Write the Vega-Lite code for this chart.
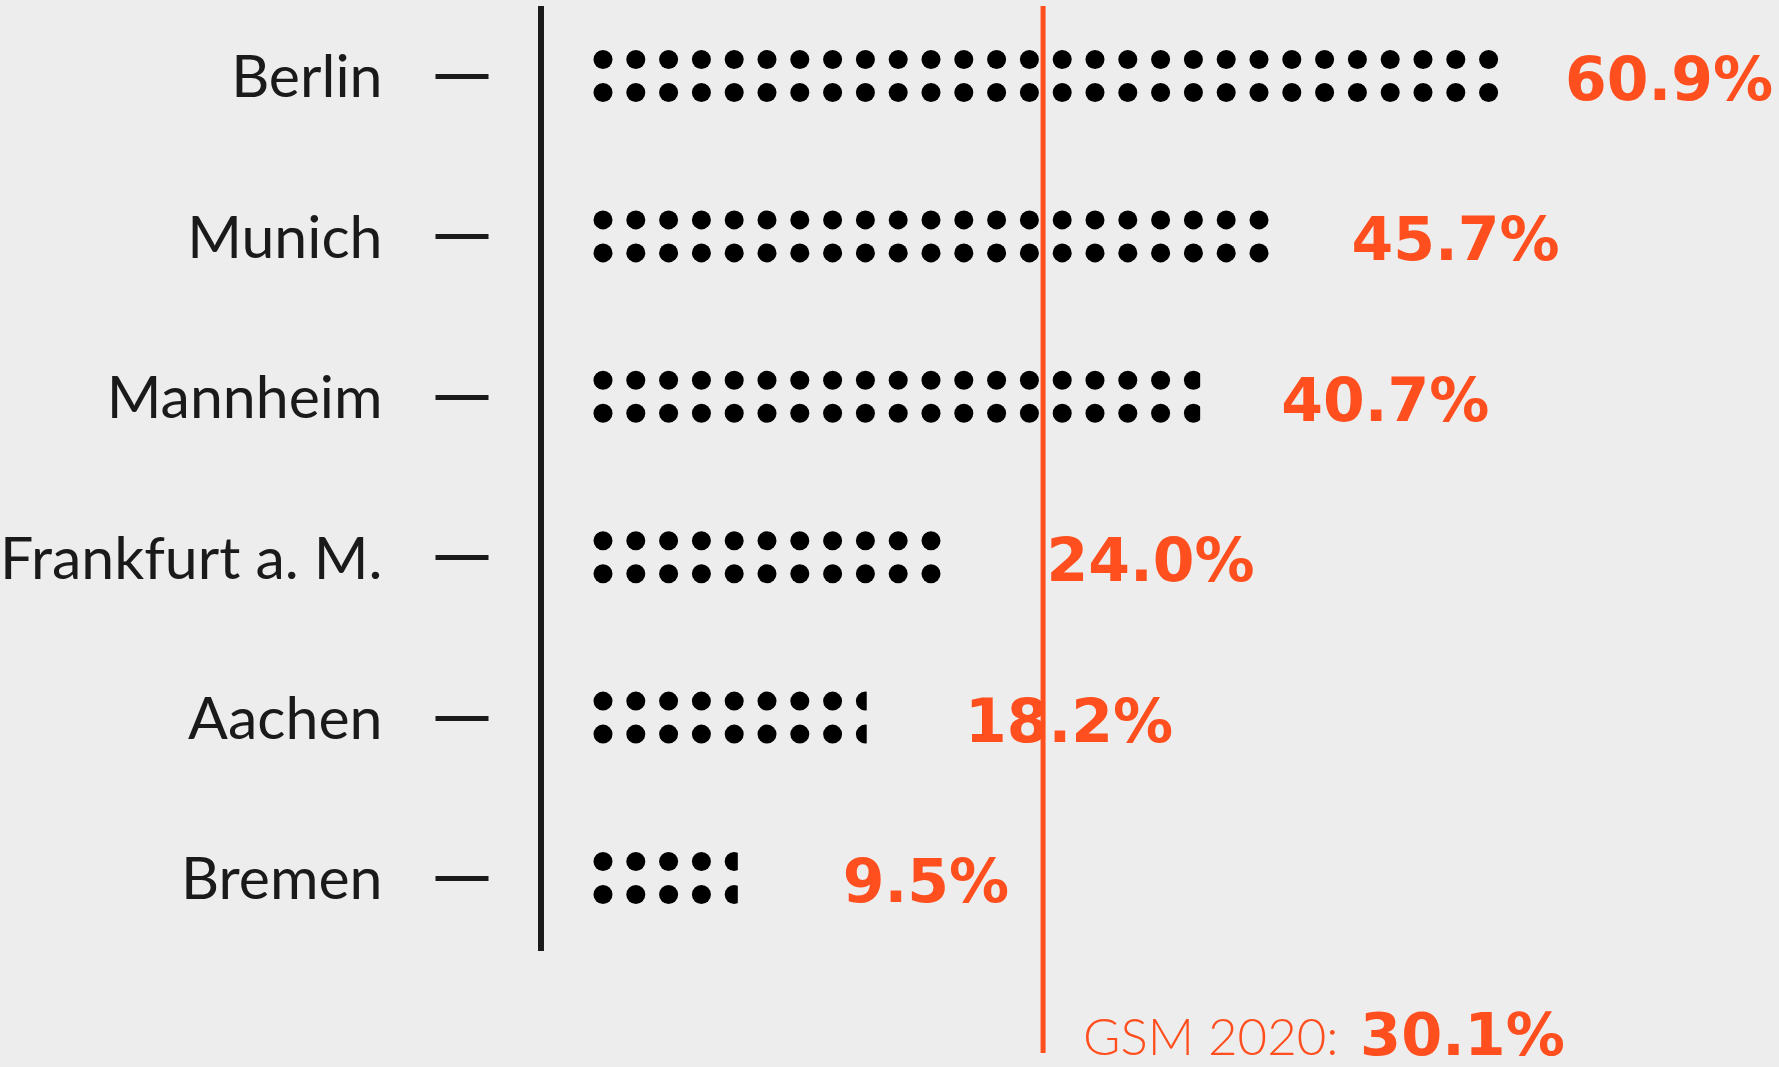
{
  "$schema": "https://vega.github.io/schema/vega-lite/v6.json",
  "width": 1238,
  "height": 1047,
  "autosize": {"type": "none"},
  "padding": {"left": 541, "top": 6, "right": 0, "bottom": 14},
  "background": "#EDEDED",
  "config": {"view": {"stroke": null}},
  "datasets": {
    "cities": [
      {"city": "Berlin", "value": 0.609},
      {"city": "Munich", "value": 0.457},
      {"city": "Mannheim", "value": 0.407},
      {"city": "Frankfurt a. M.", "value": 0.240},
      {"city": "Aachen", "value": 0.182},
      {"city": "Bremen", "value": 0.095}
    ],
    "gsm": [{"name": "GSM 2020:", "value": 0.301}],
    "dots": [
      {"city": "Berlin", "col": 0}, {"city": "Berlin", "col": 1}, {"city": "Berlin", "col": 2}, {"city": "Berlin", "col": 3},
      {"city": "Berlin", "col": 4}, {"city": "Berlin", "col": 5}, {"city": "Berlin", "col": 6}, {"city": "Berlin", "col": 7},
      {"city": "Berlin", "col": 8}, {"city": "Berlin", "col": 9}, {"city": "Berlin", "col": 10}, {"city": "Berlin", "col": 11},
      {"city": "Berlin", "col": 12}, {"city": "Berlin", "col": 13}, {"city": "Berlin", "col": 14}, {"city": "Berlin", "col": 15},
      {"city": "Berlin", "col": 16}, {"city": "Berlin", "col": 17}, {"city": "Berlin", "col": 18}, {"city": "Berlin", "col": 19},
      {"city": "Berlin", "col": 20}, {"city": "Berlin", "col": 21}, {"city": "Berlin", "col": 22}, {"city": "Berlin", "col": 23},
      {"city": "Berlin", "col": 24}, {"city": "Berlin", "col": 25}, {"city": "Berlin", "col": 26}, {"city": "Berlin", "col": 27},
      {"city": "Munich", "col": 0}, {"city": "Munich", "col": 1}, {"city": "Munich", "col": 2}, {"city": "Munich", "col": 3},
      {"city": "Munich", "col": 4}, {"city": "Munich", "col": 5}, {"city": "Munich", "col": 6}, {"city": "Munich", "col": 7},
      {"city": "Munich", "col": 8}, {"city": "Munich", "col": 9}, {"city": "Munich", "col": 10}, {"city": "Munich", "col": 11},
      {"city": "Munich", "col": 12}, {"city": "Munich", "col": 13}, {"city": "Munich", "col": 14}, {"city": "Munich", "col": 15},
      {"city": "Munich", "col": 16}, {"city": "Munich", "col": 17}, {"city": "Munich", "col": 18}, {"city": "Munich", "col": 19},
      {"city": "Munich", "col": 20},
      {"city": "Mannheim", "col": 0}, {"city": "Mannheim", "col": 1}, {"city": "Mannheim", "col": 2}, {"city": "Mannheim", "col": 3},
      {"city": "Mannheim", "col": 4}, {"city": "Mannheim", "col": 5}, {"city": "Mannheim", "col": 6}, {"city": "Mannheim", "col": 7},
      {"city": "Mannheim", "col": 8}, {"city": "Mannheim", "col": 9}, {"city": "Mannheim", "col": 10}, {"city": "Mannheim", "col": 11},
      {"city": "Mannheim", "col": 12}, {"city": "Mannheim", "col": 13}, {"city": "Mannheim", "col": 14}, {"city": "Mannheim", "col": 15},
      {"city": "Mannheim", "col": 16}, {"city": "Mannheim", "col": 17}, {"city": "Mannheim", "col": 18},
      {"city": "Frankfurt a. M.", "col": 0}, {"city": "Frankfurt a. M.", "col": 1}, {"city": "Frankfurt a. M.", "col": 2},
      {"city": "Frankfurt a. M.", "col": 3}, {"city": "Frankfurt a. M.", "col": 4}, {"city": "Frankfurt a. M.", "col": 5},
      {"city": "Frankfurt a. M.", "col": 6}, {"city": "Frankfurt a. M.", "col": 7}, {"city": "Frankfurt a. M.", "col": 8},
      {"city": "Frankfurt a. M.", "col": 9}, {"city": "Frankfurt a. M.", "col": 10},
      {"city": "Aachen", "col": 0}, {"city": "Aachen", "col": 1}, {"city": "Aachen", "col": 2}, {"city": "Aachen", "col": 3},
      {"city": "Aachen", "col": 4}, {"city": "Aachen", "col": 5}, {"city": "Aachen", "col": 6}, {"city": "Aachen", "col": 7},
      {"city": "Aachen", "col": 8},
      {"city": "Bremen", "col": 0}, {"city": "Bremen", "col": 1}, {"city": "Bremen", "col": 2}, {"city": "Bremen", "col": 3},
      {"city": "Bremen", "col": 4}
    ]
  },
  "resolve": {"scale": {"x": "independent"}},
  "layer": [
    {
      "data": {"name": "dots"},
      "mark": {"type": "point", "shape": "circle", "filled": true, "size": 361, "color": "#000000", "opacity": 1, "strokeWidth": 0, "yOffset": -16.5},
      "encoding": {
        "x": {"field": "col", "type": "quantitative", "scale": {"domain": [-1.8902, 35.8537], "nice": false, "zero": false}, "axis": null},
        "y": {
          "field": "city", "type": "nominal", "sort": null, "title": null,
          "scale": {"type": "point", "domain": ["Berlin", "Munich", "Mannheim", "Frankfurt a. M.", "Aachen", "Bremen"], "padding": 0.7637, "align": 0.2857},
          "axis": {
            "orient": "left", "offset": 53, "domain": false, "ticks": true, "tickSize": 53, "tickWidth": 5,
            "tickColor": "#1a1a1a", "labelFont": "Lato", "labelFontWeight": 400, "labelFontSize": 59,
            "labelColor": "#1a1a1a", "labelPadding": 53, "labelLimit": 600, "labelOffset": 3, "grid": false, "title": null
          }
        }
      }
    },
    {
      "data": {"name": "dots"},
      "mark": {"type": "point", "shape": "circle", "filled": true, "size": 361, "color": "#000000", "opacity": 1, "strokeWidth": 0, "yOffset": 16.5},
      "encoding": {
        "x": {"field": "col", "type": "quantitative", "scale": {"domain": [-1.8902, 35.8537], "nice": false, "zero": false}, "axis": null},
        "y": {"field": "city", "type": "nominal", "sort": null, "scale": {"domain": ["Berlin", "Munich", "Mannheim", "Frankfurt a. M.", "Aachen", "Bremen"]}}
      }
    },
    {
      "data": {"name": "cities"},
      "mark": {"type": "point", "shape": "M0,-1.2L1,-1.2L1,1.2L0,1.2Z", "filled": true, "size": 2500, "color": "#EDEDED", "opacity": 1, "strokeWidth": 0},
      "encoding": {
        "x": {"field": "value", "type": "quantitative", "scale": {"domain": [-0.0378, 0.7976], "nice": false, "zero": false}, "axis": null},
        "y": {"field": "city", "type": "nominal", "sort": null, "scale": {"domain": ["Berlin", "Munich", "Mannheim", "Frankfurt a. M.", "Aachen", "Bremen"]}}
      }
    },
    {
      "data": {"name": "cities"},
      "mark": {"type": "rule", "color": "#1a1a1a", "strokeWidth": 5, "yOffset": -70, "y2Offset": 73},
      "encoding": {
        "x": {"datum": -0.0378, "type": "quantitative", "scale": {"domain": [-0.0378, 0.7976], "nice": false, "zero": false}, "axis": null},
        "y": {"datum": "Berlin", "type": "nominal", "scale": {"domain": ["Berlin", "Munich", "Mannheim", "Frankfurt a. M.", "Aachen", "Bremen"]}},
        "y2": {"datum": "Bremen"}
      }
    },
    {
      "data": {"name": "gsm"},
      "mark": {"type": "rule", "color": "#FF4F1F", "strokeWidth": 5},
      "encoding": {
        "x": {"field": "value", "type": "quantitative", "scale": {"domain": [-0.0378, 0.7976], "nice": false, "zero": false}, "axis": null}
      }
    },
    {
      "data": {"name": "cities"},
      "mark": {"type": "text", "font": "DejaVu Sans", "fontWeight": "bold", "fontSize": 60, "color": "#FF4F1F", "align": "left", "baseline": "alphabetic", "dy": 24},
      "encoding": {
        "x": {"field": "value", "type": "quantitative", "scale": {"domain": [-0.11979, 0.76135], "nice": false, "zero": false}, "axis": null},
        "y": {"field": "city", "type": "nominal", "sort": null, "scale": {"domain": ["Berlin", "Munich", "Mannheim", "Frankfurt a. M.", "Aachen", "Bremen"]}},
        "text": {"field": "value", "type": "quantitative", "format": ".1%"}
      }
    },
    {
      "data": {"name": "gsm"},
      "mark": {"type": "text", "font": "Lato", "fontWeight": 300, "fontSize": 51, "color": "#FF4F1F", "align": "left", "baseline": "alphabetic", "dx": 40, "dy": 2},
      "encoding": {
        "x": {"field": "value", "type": "quantitative", "scale": {"domain": [-0.0378, 0.7976], "nice": false, "zero": false}, "axis": null},
        "y": {"value": {"expr": "height"}},
        "text": {"field": "name", "type": "nominal"}
      }
    },
    {
      "data": {"name": "gsm"},
      "mark": {"type": "text", "font": "DejaVu Sans", "fontWeight": "bold", "fontSize": 59, "color": "#FF4F1F", "align": "left", "baseline": "alphabetic", "dx": 317, "dy": 2},
      "encoding": {
        "x": {"field": "value", "type": "quantitative", "scale": {"domain": [-0.0378, 0.7976], "nice": false, "zero": false}, "axis": null},
        "y": {"value": {"expr": "height"}},
        "text": {"field": "value", "type": "quantitative", "format": ".1%"}
      }
    }
  ]
}
